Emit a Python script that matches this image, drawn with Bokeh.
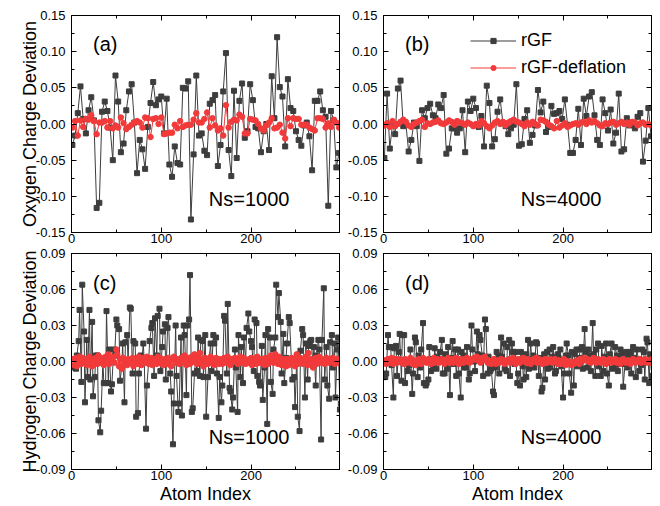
from bokeh.plotting import figure
from bokeh.layouts import gridplot
from bokeh.models import (Range1d, FixedTicker, NumeralTickFormatter, LinearAxis,
                          Label, Legend, LegendItem)
from bokeh.embed import file_html
from bokeh.resources import INLINE

FONT = "Liberation Sans"
GRAY = "#3d3d3d"
RED = "#f23a3a"

# ---------------- data ----------------
oxygen_index = list(range(1, 300, 3))                         # 100 oxygen atoms
hydrogen_index = [i for i in range(1, 301) if i % 3 != 1]    # 200 hydrogen atoms

oxy_rgf_1000 = [
    -0.029, -0.016, 0.015, 0.052, 0.007, -0.013, 0.019, 0.037, 0.005, -0.116,
    -0.109, 0.017, 0.031, 0.018, -0.005, -0.050, 0.067, 0.031, -0.039, -0.027,
    0.019, 0.045, 0.055, 0.002, -0.068, -0.022, -0.035, -0.062, -0.004, 0.029,
    0.058, 0.026, 0.034, 0.038, -0.013, 0.035, -0.056, -0.073, -0.031, -0.054,
    -0.056, 0.050, 0.049, 0.059, -0.132, -0.042, 0.067, -0.016, -0.013, -0.037,
    -0.043, 0.028, 0.033, 0.040, -0.058, -0.029, 0.045, 0.098, -0.036, -0.072,
    0.046, -0.047, 0.032, 0.056, -0.019, -0.010, 0.055, 0.033, -0.004, -0.006,
    -0.039, -0.010, 0.000, -0.036, 0.066, 0.008, 0.120, 0.051, 0.038, -0.031,
    0.062, 0.022, 0.018, -0.010, -0.022, -0.030, -0.002, 0.002, -0.017, -0.064,
    0.032, 0.032, 0.045, 0.019, 0.010, -0.113, 0.018, 0.005, -0.060, -0.040]
oxy_defl_1000 = [
    -0.005, 0.004, -0.016, 0.005, -0.004, 0.007, 0.006, 0.012, 0.004, -0.014,
    0.002, 0.002, 0.004, -0.005, 0.004, -0.006, -0.002, -0.005, 0.009, 0.001,
    -0.007, -0.004, -0.001, 0.002, 0.004, 0.002, -0.005, 0.009, 0.008, -0.018,
    0.007, 0.008, 0.000, 0.009, -0.014, -0.013, -0.012, -0.012, -0.001, -0.006,
    0.004, -0.004, -0.002, -0.001, -0.001, 0.006, 0.015, 0.002, 0.002, 0.007,
    0.016, -0.005, 0.008, -0.002, -0.009, -0.006, -0.016, 0.026, -0.005, 0.003,
    0.006, 0.005, 0.013, 0.010, -0.013, -0.013, 0.007, 0.006, 0.005, 0.000,
    -0.006, -0.009, -0.002, 0.002, 0.008, -0.006, -0.005, -0.001, -0.012, -0.020,
    0.008, -0.003, 0.008, 0.007, 0.007, -0.001, -0.001, -0.001, -0.005, -0.007,
    -0.009, 0.008, 0.008, 0.007, -0.005, 0.001, -0.004, 0.006, 0.002, -0.005]
oxy_rgf_4000 = [
    -0.047, 0.042, -0.034, -0.001, -0.014, 0.049, 0.060, -0.003, -0.001, -0.038,
    -0.022, 0.002, -0.003, -0.051, 0.019, 0.008, 0.022, 0.028, 0.012, 0.008,
    0.027, 0.022, 0.040, -0.041, -0.034, -0.006, -0.006, -0.012, -0.006, 0.019,
    -0.039, 0.031, 0.018, 0.035, 0.022, -0.004, 0.011, -0.031, 0.053, 0.029,
    -0.031, -0.021, 0.017, 0.034, 0.001, -0.003, -0.014, -0.006, -0.001, 0.055,
    -0.030, -0.028, 0.007, 0.019, -0.026, -0.015, -0.002, 0.047, 0.016, 0.031,
    -0.011, -0.004, 0.025, 0.014, 0.015, 0.018, 0.007, 0.034, -0.001, -0.040,
    -0.040, -0.022, 0.021, -0.029, 0.035, 0.011, 0.038, 0.044, 0.012, -0.022,
    -0.029, 0.034, 0.015, -0.009, 0.020, -0.027, -0.012, 0.042, -0.038, -0.035,
    0.008, -0.002, 0.001, -0.006, 0.010, 0.015, -0.052, -0.023, 0.022, -0.017]
oxy_defl_4000 = [
    -0.002, 0.001, -0.004, 0.004, -0.003, 0.000, 0.003, 0.006, 0.003, -0.002,
    -0.004, 0.000, 0.002, 0.004, 0.006, -0.004, 0.001, 0.000, 0.002, 0.003,
    0.005, 0.001, 0.000, 0.002, 0.005, 0.003, -0.001, 0.004, 0.002, 0.001,
    -0.001, 0.002, 0.000, -0.003, 0.000, -0.002, 0.004, 0.001, -0.003, -0.006,
    -0.002, 0.002, 0.004, 0.000, 0.003, -0.002, 0.002, 0.004, 0.006, 0.003,
    0.002, 0.000, -0.003, 0.002, -0.001, 0.003, 0.000, -0.002, 0.006, 0.005,
    0.003, -0.001, -0.003, -0.006, 0.004, -0.005, -0.002, 0.001, -0.004, -0.002,
    0.000, 0.001, -0.001, 0.002, 0.003, 0.000, 0.005, 0.002, 0.004, 0.001,
    -0.002, -0.003, 0.001, 0.000, 0.002, 0.003, -0.001, 0.001, 0.003, 0.000,
    0.002, -0.001, 0.003, 0.002, -0.002, 0.001, 0.002, -0.001, 0.000, -0.002]

hyd_rgf_1000 = [
    -0.005, 0.002, -0.006, 0.005, 0.017, 0.043, -0.017, 0.064, 0.025, -0.034,
    0.018, -0.013, 0.043, -0.015, 0.033, -0.029, -0.013, 0.005, 0.005, -0.049,
    -0.059, -0.041, 0.000, -0.018, -0.018, 0.042, -0.018, 0.010, -0.025, -0.019,
    0.010, 0.005, 0.035, 0.030, 0.027, -0.016, -0.005, 0.015, -0.034, 0.016,
    0.022, 0.000, 0.045, 0.044, -0.010, 0.017, 0.015, -0.046, -0.043, -0.010,
    0.005, -0.002, 0.015, 0.000, -0.056, -0.020, 0.000, 0.017, 0.028, 0.032,
    -0.012, 0.036, 0.005, 0.038, 0.044, -0.008, 0.012, 0.025, 0.031, -0.015,
    0.028, 0.037, -0.010, -0.025, -0.069, -0.035, 0.030, -0.012, -0.042, -0.035,
    0.020, -0.045, 0.030, 0.022, -0.028, 0.030, 0.035, 0.072, -0.042, -0.039,
    -0.010, 0.000, -0.008, 0.020, -0.012, 0.018, 0.017, -0.013, 0.022, -0.046,
    -0.013, 0.000, 0.015, -0.008, 0.022, 0.015, 0.020, -0.010, -0.047, -0.013,
    -0.034, -0.020, 0.038, 0.034, -0.010, 0.048, -0.022, -0.025, -0.040, -0.030,
    0.010, -0.005, -0.042, 0.022, -0.013, 0.012, -0.018, 0.020, 0.000, 0.028,
    0.040, 0.025, 0.017, 0.012, -0.008, 0.035, 0.032, -0.012, -0.017, -0.020,
    0.013, -0.032, -0.005, 0.022, -0.052, 0.027, 0.020, -0.017, -0.027, 0.010,
    0.020, 0.064, 0.037, 0.057, 0.033, -0.010, 0.023, -0.018, 0.003, 0.015,
    0.037, 0.032, 0.000, -0.015, -0.013, -0.038, 0.005, -0.046, -0.058, 0.009,
    0.027, 0.022, -0.030, 0.015, -0.015, 0.013, 0.017, 0.018, -0.003, 0.012,
    -0.020, 0.005, 0.018, 0.010, -0.065, 0.018, 0.061, -0.015, 0.012, -0.020,
    -0.031, 0.016, 0.022, -0.005, 0.015, -0.030, 0.010, 0.020, -0.040, -0.035]
hyd_defl_1000 = [
    0.002, -0.003, 0.003, -0.004, 0.001, 0.004, -0.002, 0.003, -0.001, 0.002,
    -0.003, 0.001, 0.004, -0.002, -0.004, 0.002, 0.000, 0.003, -0.002, 0.005,
    -0.001, 0.003, 0.002, -0.003, 0.004, 0.001, 0.006, -0.002, 0.003, 0.000,
    0.004, -0.001, 0.010, 0.006, -0.004, 0.002, -0.006, 0.003, -0.002, 0.001,
    -0.003, 0.002, 0.000, -0.001, 0.003, -0.004, 0.002, 0.001, -0.002, 0.004,
    0.001, -0.003, 0.003, 0.002, -0.001, 0.004, -0.002, 0.000, 0.003, -0.003,
    0.002, 0.001, -0.002, 0.004, -0.001, 0.003, 0.000, -0.003, 0.002, 0.001,
    -0.002, 0.003, 0.001, -0.004, 0.002, 0.004, -0.001, 0.002, 0.000, -0.002,
    0.003, -0.001, 0.002, 0.005, -0.003, 0.001, 0.003, -0.002, 0.004, 0.000,
    0.006, 0.002, -0.002, 0.003, 0.007, -0.001, 0.002, -0.004, 0.003, 0.001,
    -0.002, 0.002, 0.004, -0.001, 0.001, -0.003, 0.003, 0.000, -0.002, 0.002,
    0.001, -0.002, 0.003, 0.002, -0.001, 0.004, 0.001, -0.003, 0.002, 0.000,
    0.003, 0.001, -0.002, 0.002, 0.004, -0.001, 0.000, 0.003, -0.002, 0.001,
    -0.001, 0.002, 0.003, -0.003, 0.001, 0.002, -0.002, 0.004, 0.001, -0.001,
    0.002, 0.000, -0.003, 0.003, 0.001, -0.002, 0.002, 0.005, 0.003, -0.001,
    0.006, 0.003, -0.002, 0.004, 0.001, -0.003, 0.002, 0.000, -0.004, 0.002,
    -0.003, 0.001, 0.003, -0.001, 0.002, -0.004, 0.006, -0.002, 0.001, 0.003,
    0.000, -0.002, 0.002, 0.004, -0.003, 0.007, -0.001, 0.002, -0.005, 0.001,
    0.003, -0.002, 0.001, 0.004, -0.001, 0.002, 0.000, -0.002, 0.003, 0.001,
    -0.001, 0.002, 0.000, 0.003, -0.002, 0.001, 0.002, -0.001, 0.000, 0.001]
hyd_rgf_4000 = [
    -0.013, -0.010, 0.022, 0.012, 0.012, -0.003, -0.030, 0.011, 0.013, -0.012,
    0.008, 0.023, -0.016, 0.022, 0.022, -0.018, 0.000, -0.008, -0.003, 0.010,
    -0.027, -0.010, 0.020, 0.016, -0.013, 0.005, -0.005, 0.010, 0.032, -0.018,
    -0.020, -0.018, -0.015, 0.012, -0.008, 0.002, -0.005, 0.011, -0.006, 0.004,
    0.002, 0.008, 0.018, -0.010, -0.010, 0.006, -0.006, 0.012, -0.028, 0.003,
    0.017, -0.002, 0.010, -0.012, 0.010, -0.010, -0.030, 0.008, 0.005, -0.005,
    -0.005, 0.012, -0.015, -0.010, 0.030, 0.010, 0.000, -0.008, 0.025, 0.006,
    0.022, 0.018, 0.005, -0.012, 0.035, 0.027, -0.010, 0.004, -0.008, -0.006,
    -0.025, -0.028, -0.005, 0.008, 0.005, -0.010, 0.020, 0.004, 0.015, -0.006,
    -0.008, 0.012, 0.018, -0.012, 0.015, 0.008, -0.002, 0.008, -0.018, -0.010,
    -0.020, 0.008, -0.004, -0.015, 0.006, -0.013, 0.018, -0.006, 0.015, 0.002,
    0.005, -0.005, 0.016, 0.015, -0.012, 0.003, -0.025, -0.022, 0.006, -0.015,
    0.008, -0.006, 0.010, -0.005, 0.004, 0.012, -0.010, -0.008, 0.006, 0.003,
    0.010, -0.004, -0.030, -0.010, 0.005, 0.015, 0.005, -0.010, -0.026, 0.008,
    -0.020, 0.006, 0.010, -0.004, 0.003, 0.010, 0.012, -0.006, 0.027, 0.008,
    -0.005, 0.010, 0.005, -0.008, 0.032, 0.006, -0.012, 0.010, 0.015, -0.004,
    -0.012, 0.013, -0.008, 0.004, 0.015, -0.010, -0.020, 0.006, 0.015, -0.006,
    -0.005, 0.012, 0.005, -0.008, -0.002, 0.010, 0.006, -0.021, -0.002, 0.008,
    -0.005, 0.004, 0.008, -0.010, 0.012, 0.003, -0.013, 0.010, 0.002, -0.008,
    -0.003, 0.010, 0.008, -0.015, 0.019, 0.016, -0.018, 0.006, -0.012, 0.005]
hyd_defl_4000 = [
    0.001, -0.002, 0.002, 0.000, -0.001, 0.003, -0.002, 0.001, 0.002, -0.001,
    0.000, 0.002, -0.001, 0.001, -0.002, 0.002, 0.000, -0.001, 0.001, 0.003,
    -0.002, 0.001, 0.000, -0.003, -0.001, 0.002, 0.001, -0.002, 0.003, 0.000,
    0.001, -0.001, 0.002, 0.000, -0.002, 0.001, 0.003, -0.001, 0.000, 0.002,
    -0.001, 0.000, 0.002, 0.001, -0.002, 0.001, 0.002, 0.003, -0.001, 0.000,
    0.002, -0.001, 0.001, 0.003, 0.000, -0.002, 0.002, 0.001, -0.001, 0.002,
    0.000, 0.003, 0.001, -0.001, 0.002, 0.001, 0.003, 0.002, 0.004, 0.001,
    0.002, -0.001, 0.003, 0.001, 0.004, 0.002, -0.001, 0.001, 0.000, -0.002,
    0.001, 0.002, -0.002, 0.000, 0.001, -0.001, 0.002, 0.000, 0.001, -0.002,
    0.000, 0.001, 0.002, -0.001, 0.001, 0.003, 0.000, -0.002, 0.001, 0.002,
    -0.001, 0.002, 0.001, 0.003, 0.000, -0.001, 0.002, 0.001, -0.002, 0.000,
    0.002, 0.001, 0.003, -0.001, 0.002, 0.000, 0.001, -0.002, 0.001, 0.002,
    -0.001, 0.001, 0.000, 0.002, -0.001, 0.001, 0.002, 0.000, -0.002, 0.001,
    0.000, -0.002, 0.001, 0.002, -0.003, -0.001, -0.002, 0.000, -0.003, -0.001,
    -0.002, 0.000, -0.001, 0.001, -0.002, 0.002, 0.000, 0.001, 0.003, 0.001,
    0.002, 0.000, 0.001, -0.001, 0.002, 0.003, 0.001, -0.001, 0.002, 0.000,
    -0.001, 0.001, 0.002, 0.000, -0.002, 0.001, 0.000, 0.002, -0.001, 0.001,
    0.000, 0.002, -0.001, 0.001, 0.000, -0.002, 0.001, 0.002, 0.000, -0.001,
    0.001, 0.000, -0.002, 0.001, 0.002, 0.000, -0.001, 0.001, 0.000, 0.002,
    -0.001, 0.001, 0.000, 0.002, -0.001, 0.000, 0.001, -0.001, 0.002, 0.001]

x_ticks = [0, 100, 200]
x_minor_ticks = [50, 150, 250]
oxy_ticks = [-0.15, -0.10, -0.05, 0.0, 0.05, 0.10, 0.15]
oxy_minor_ticks = [-0.125, -0.075, -0.025, 0.025, 0.075, 0.125]
hyd_ticks = [-0.09, -0.06, -0.03, 0.0, 0.03, 0.06, 0.09]
hyd_minor_ticks = [-0.075, -0.045, -0.015, 0.015, 0.045, 0.075]
series_names = ["rGF", "rGF-deflation"]


def style_axis(ax, show_labels=True):
    ax.axis_line_color = "black"
    ax.axis_line_width = 1
    ax.major_tick_in = 5
    ax.major_tick_out = 0
    ax.minor_tick_in = 3
    ax.minor_tick_out = 0
    ax.major_tick_line_color = "black"
    ax.minor_tick_line_color = "black"
    ax.major_label_text_font = FONT
    ax.axis_label_text_font = FONT
    ax.axis_label_text_font_style = "normal"
    ax.axis_label_text_font_size = "18px"
    ax.axis_label_text_color = "black"
    if show_labels:
        ax.major_label_text_font_size = "13px"
        ax.major_label_text_color = "black"
    else:
        ax.major_label_text_font_size = "0px"
        ax.major_label_text_color = None
        ax.major_label_standoff = 0


def panel(xs, y_rgf, y_def, yr, ticks, minor, tag, ns, ns_y, tag_y,
          left, right, top, bottom, fh, ylabel=None, xlabel=None, legend=False):
    p = figure(frame_width=268, frame_height=fh,
               x_range=Range1d(0, 298.5), y_range=Range1d(-yr, yr),
               output_backend="svg", toolbar_location=None,
               min_border_left=left, min_border_right=right,
               min_border_top=top, min_border_bottom=bottom)
    p.xgrid.visible = False
    p.ygrid.visible = False
    p.outline_line_color = "black"
    p.outline_line_width = 1
    p.background_fill_color = "white"
    p.border_fill_color = "white"

    xa = p.xaxis[0]
    ya = p.yaxis[0]
    xa.ticker = FixedTicker(ticks=x_ticks, minor_ticks=x_minor_ticks)
    ya.ticker = FixedTicker(ticks=ticks, minor_ticks=minor)
    ya.formatter = NumeralTickFormatter(format="0.00")
    style_axis(xa)
    style_axis(ya)
    xa.major_label_standoff = 1
    ya.major_label_standoff = 6
    if ylabel:
        ya.axis_label = ylabel
        ya.axis_label_standoff = -7
    if xlabel:
        xa.axis_label = xlabel
        xa.axis_label_standoff = 1

    ra = LinearAxis(ticker=FixedTicker(ticks=ticks, minor_ticks=minor))
    style_axis(ra, show_labels=False)
    p.add_layout(ra, "right")
    ta = LinearAxis(ticker=FixedTicker(ticks=x_ticks, minor_ticks=x_minor_ticks))
    style_axis(ta, show_labels=False)
    p.add_layout(ta, "above")

    l1 = p.line(xs, y_rgf, line_color=GRAY, line_width=1)
    s1 = p.scatter(xs, y_rgf, marker="square", size=5, fill_color=GRAY, line_color=GRAY)
    l2 = p.line(xs, y_def, line_color=RED, line_width=1)
    s2 = p.scatter(xs, y_def, marker="circle", size=5.5, fill_color=RED, line_color=RED)

    p.add_layout(Label(x=24, y=tag_y, text=tag, text_font=FONT, text_font_size="20px",
                       text_baseline="middle", text_align="left", text_color="black"))
    p.add_layout(Label(x=153, y=ns_y, text=ns, text_font=FONT, text_font_size="20px",
                       text_baseline="middle", text_align="left", text_color="black"))

    if legend:
        lg = Legend(items=[LegendItem(label=series_names[0], renderers=[l1, s1]),
                           LegendItem(label=series_names[1], renderers=[l2, s2])],
                    location=(87, 154), glyph_width=46, glyph_height=13,
                    label_height=13, label_standoff=5, spacing=6, padding=0,
                    margin=0, border_line_color=None, background_fill_alpha=0,
                    label_text_font=FONT, label_text_font_size="18px",
                    label_text_color="black")
        p.add_layout(lg)
    return p


pa = panel(oxygen_index, oxy_rgf_1000, oxy_defl_1000, 0.15, oxy_ticks, oxy_minor_ticks,
           "(a)", "Ns=1000", -0.1035, 0.110, 71, 5, 15, 15, 217,
           ylabel="Oxygen Charge Deviation")
pb = panel(oxygen_index, oxy_rgf_4000, oxy_defl_4000, 0.15, oxy_ticks, oxy_minor_ticks,
           "(b)", "Ns=4000", -0.1035, 0.110, 35, 13, 15, 15, 217, legend=True)
pc = panel(hydrogen_index, hyd_rgf_1000, hyd_defl_1000, 0.09, hyd_ticks, hyd_minor_ticks,
           "(c)", "Ns=1000", -0.0625, 0.0657, 71, 5, 6, 37, 216,
           ylabel="Hydrogen Charge Deviation", xlabel="Atom Index")
pd_ = panel(hydrogen_index, hyd_rgf_4000, hyd_defl_4000, 0.09, hyd_ticks, hyd_minor_ticks,
            "(d)", "Ns=4000", -0.0625, 0.0657, 35, 13, 6, 37, 216, xlabel="Atom Index")

grid = gridplot([[pa, pb], [pc, pd_]], toolbar_location=None)

open("out.html", "w").write(file_html(grid, INLINE))
